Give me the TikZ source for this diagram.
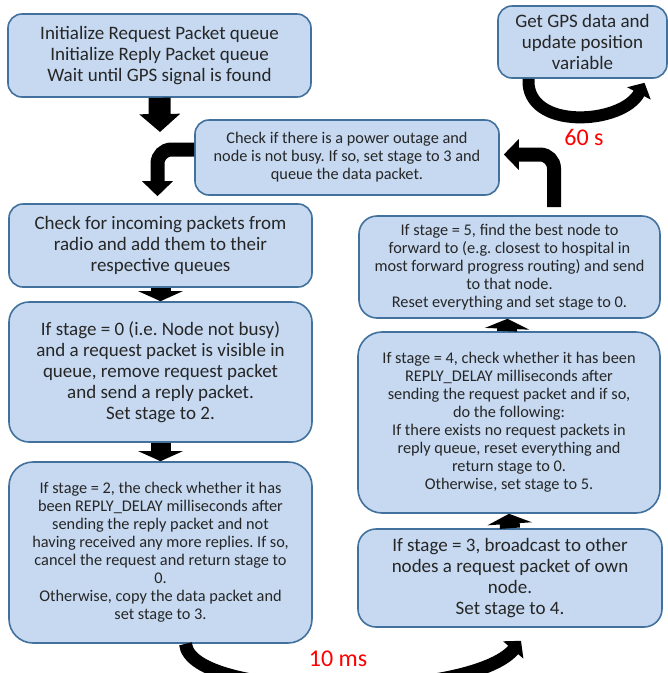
\documentclass[tikz,border=0pt]{standalone}
\usepackage{fontspec}
\setmainfont{Carlito}
\usepackage{tikz}
\usetikzlibrary{arrows.meta}
\frenchspacing
\definecolor{boxfill}{HTML}{C6D9F1}
\definecolor{boxline}{HTML}{41719C}
\newcommand{\bigtxt}{\fontsize{19}{21}\selectfont}
\newcommand{\smalltxt}{\fontsize{16.3}{18}\selectfont}
\tikzset{
    box/.style={draw=boxline, line width=1.6pt, fill=boxfill, rounded corners=14pt, align=center, text=black!85, inner sep=0pt, font=\bigtxt},
    smallbox/.style={box, font=\smalltxt},
    bigarrow/.style={line width=22pt, -{Triangle[width=40pt,length=18pt]}},
    bentarrow/.style={line width=14pt, rounded corners=14pt, -{Triangle[width=30pt,length=15pt]}},
    stubarrow/.style={line width=20pt, -{Triangle[width=44pt,length=10pt]}},
    looparrow/.style={line width=12pt, -{Triangle[width=26pt,length=12pt]}},
    timelabel/.style={text=red, font=\fontsize{24}{26}\selectfont}
}
\begin{document}
\begin{tikzpicture}[x=1pt, y=-1pt]
                    \useasboundingbox (0,0) rectangle (668,673);
                    \node[box, minimum width=303, minimum height=83] (init) at (159.5,55.5) {Initialize Request Packet queue\\Initialize Reply Packet queue\\Wait until GPS signal is found};
                    \node[box, minimum width=169, minimum height=72] (gps) at (582.5,42) {Get GPS data and\\update position\\variable};
                    \node[smallbox, minimum width=304, minimum height=75] (power) at (347,157.5) {Check if there is a power outage and\\node is not busy. If so, set stage to 3 and\\queue the data packet.};
                    \node[box, minimum width=303, minimum height=83] (check) at (160.5,245.5) {Check for incoming packets from\\radio and add them to their\\respective queues};
                    \node[box, rounded corners=20pt, minimum width=303, minimum height=140] (stagezero) at (160.5,372) {If stage = 0 (i.e. Node not busy)\\and a request packet is visible in\\queue, remove request packet\\and send a reply packet.\\Set stage to 2.};
                    \node[smallbox, rounded corners=24pt, minimum width=303, minimum height=181] (stagetwo) at (160.5,552.5) {If stage = 2, the check whether it has\\been REPLY\_DELAY milliseconds after\\sending the reply packet and not\\having received any more replies. If so,\\cancel the request and return stage to\\0.\\Otherwise, copy the data packet and\\set stage to 3.};
                    \node[smallbox, rounded corners=18pt, minimum width=301, minimum height=102] (stagefive) at (509.5,267) {If stage = 5, find the best node to\\forward to (e.g. closest to hospital in\\most forward progress routing) and send\\to that node.\\Reset everything and set stage to 0.};
                    \node[smallbox, rounded corners=24pt, minimum width=302, minimum height=181] (stagefour) at (509,422.5) {If stage = 4, check whether it has been\\REPLY\_DELAY milliseconds after\\sending the request packet and if so,\\do the following:\\If there exists no request packets in\\reply queue, reset everything and\\return stage to 0.\\Otherwise, set stage to 5.};
                    \node[box, rounded corners=18pt, minimum width=304, minimum height=98] (stagethree) at (510,578) {If stage = 3, broadcast to other\\nodes a request packet of own\\node.\\Set stage to 4.};
                    \node[timelabel] (gpstime) at (584,137) {60 s};
                    \node[timelabel] (looptime) at (338,659) {10 ms};
                    \coordinate (entry) at (160,132);
                    \draw[bigarrow] (init.south) -- (entry);
                    \draw[bentarrow, shorten >=7pt] ([yshift=8pt]power.west) -| ([xshift=-3pt]check.north);
                    \draw[bentarrow, shorten <=8pt, shorten >=4pt] ([xshift=44.5pt]stagefive.north) |- ([yshift=3pt]power.east);
                    \draw[stubarrow] (check.south) -- (stagezero.north);
                    \draw[stubarrow] (stagezero.south) -- (stagetwo.north);
                    \draw[stubarrow] (stagethree.north) -- (stagefour.south);
                    \draw[stubarrow] ([xshift=-2pt]stagefour.north) -- ([xshift=-2pt]stagefive.south);
                    \draw[looparrow] ([xshift=-54pt]gps.south) .. controls +(-3,52) and +(-22,42) .. ([xshift=62pt,yshift=-4pt]gps.south);
                    \draw[looparrow, line width=13pt] ([xshift=25pt]stagetwo.south) .. controls +(5,57) and +(-51,60) .. ([xshift=11pt,yshift=-13pt]stagethree.south);
                \end{tikzpicture}
\end{document}
